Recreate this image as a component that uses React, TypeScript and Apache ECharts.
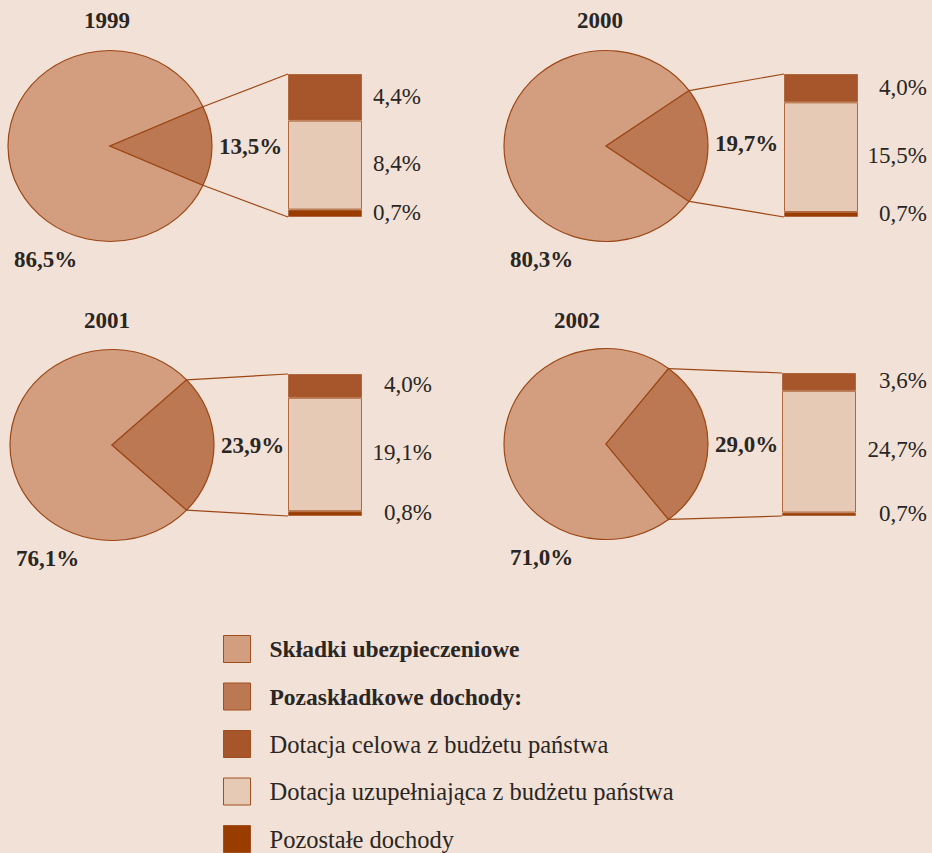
import React, { useEffect, useRef } from "react";
import * as echarts from "echarts";

// ---- data ----
const years = ["1999", "2000", "2001", "2002"];
const skladki = [86.5, 80.3, 76.1, 71.0];
const pozaskladkowe = [13.5, 19.7, 23.9, 29.0];
const celowa = [4.4, 4.0, 4.0, 3.6];
const uzupelniajaca = [8.4, 15.5, 19.1, 24.7];
const pozostale = [0.7, 0.7, 0.8, 0.7];

const legendNames = [
  "Składki ubezpieczeniowe",
  "Pozaskładkowe dochody:",
  "Dotacja celowa z budżetu państwa",
  "Dotacja uzupełniająca z budżetu państwa",
  "Pozostałe dochody",
];

// ---- layout / style ----
const BG = "#F1E1D6";
const C_MAIN = "#D39E7F";
const C_SLICE = "#BC7853";
const C_CEL = "#A6562A";
const C_UZU = "#E6CAB5";
const C_POZ = "#993C00";
const C_STROKE = "#9C4715";
const C_TEXT = "#2A2624";
const FONT = "'Liberation Serif', 'Times New Roman', serif";
const FS = 23;

const RX = 102;
const RY = 95.5;
const PANELS = [
  { cx: 110, cy: 146, dy: 0, gl: 288, gt: 74, gh: 143, lr: 421, tx: 107, ty: 20 },
  { cx: 606, cy: 146, dy: -3, gl: 784, gt: 74, gh: 143, lr: 927, tx: 600, ty: 20 },
  { cx: 112, cy: 445, dy: 0, gl: 288, gt: 374, gh: 142, lr: 432, tx: 107, ty: 320 },
  { cx: 606, cy: 444, dy: 0, gl: 782, gt: 373, gh: 143, lr: 927, tx: 577, ty: 320 },
];
const GW = 74;

const fmt = (v: number) => v.toFixed(1).replace(".", ",") + "%";

function buildOption() {
  const grids = PANELS.map((p) => ({ left: p.gl, top: p.gt, width: GW, height: p.gh }));
  const xAxes = PANELS.map((_, i) => ({
    type: "category",
    gridIndex: i,
    data: [years[i]],
    show: false,
  }));
  const yAxes = PANELS.map((_, i) => ({
    type: "value",
    gridIndex: i,
    min: 0,
    max: celowa[i] + uzupelniajaca[i] + pozostale[i],
    show: false,
  }));

  const barSeries: any[] = [];
  PANELS.forEach((p, i) => {
    const segs = [
      { name: legendNames[4], vals: pozostale, color: C_POZ, dy: -1 },
      { name: legendNames[3], vals: uzupelniajaca, color: C_UZU, dy: -2 },
      { name: legendNames[2], vals: celowa, color: C_CEL, dy: -1 },
    ];
    segs.forEach((s) => {
      barSeries.push({
        type: "bar",
        name: s.name,
        xAxisIndex: i,
        yAxisIndex: i,
        stack: "p" + i,
        barWidth: "100%",
        data: [s.vals[i]],
        itemStyle: { color: s.color, borderColor: "#B0673C", borderWidth: 1 },
        label: {
          show: true,
          position: [p.lr - p.gl, "50%"],
          offset: [0, s.dy],
          align: "right",
          verticalAlign: "middle",
          formatter: (d: any) => fmt(d.value),
          fontFamily: FONT,
          fontSize: FS,
          color: C_TEXT,
        },
        emphasis: { disabled: true },
      });
    });
  });

  const mainSeries = {
    type: "custom",
    name: legendNames[0],
    coordinateSystem: "none",
    itemStyle: { color: C_MAIN },
    data: skladki,
    z: 1,
    renderItem: (params: any, api: any) => {
      const i = params.dataIndex;
      const p = PANELS[i];
      const m = api.value(0);
      const s = pozaskladkowe[i];
      const h = (s / (s + m)) * Math.PI;
      return {
        type: "group",
        children: [
          {
            type: "sector",
            x: p.cx,
            y: p.cy,
            scaleY: RY / RX,
            shape: { cx: 0, cy: 0, r: RX, startAngle: h, endAngle: 2 * Math.PI - h, clockwise: true },
            style: { fill: C_MAIN, stroke: C_STROKE, lineWidth: 1.2, strokeNoScale: true },
          },
          {
            type: "text",
            x: p.cx - 96,
            y: p.cy + 113.5,
            style: {
              text: fmt(m),
              fill: C_TEXT,
              fontFamily: FONT,
              fontSize: FS,
              fontWeight: "bold",
              align: "left",
              verticalAlign: "middle",
            },
          },
        ],
      };
    },
  };

  const sliceSeries = {
    type: "custom",
    name: legendNames[1],
    coordinateSystem: "none",
    itemStyle: { color: C_SLICE },
    data: pozaskladkowe,
    z: 2,
    renderItem: (params: any, api: any) => {
      const i = params.dataIndex;
      const p = PANELS[i];
      const s = api.value(0);
      const m = skladki[i];
      const h = (s / (s + m)) * Math.PI;
      const ex = p.cx + RX * Math.cos(h);
      const eyT = p.cy - RY * Math.sin(h);
      const eyB = p.cy + RY * Math.sin(h);
      const ls = { stroke: C_STROKE, lineWidth: 1.2 };
      return {
        type: "group",
        children: [
          {
            type: "sector",
            x: p.cx,
            y: p.cy,
            scaleY: RY / RX,
            shape: { cx: 0, cy: 0, r: RX, startAngle: -h, endAngle: h, clockwise: true },
            style: { fill: C_SLICE, stroke: C_STROKE, lineWidth: 1.2, strokeNoScale: true },
          },
          { type: "line", shape: { x1: ex, y1: eyT, x2: p.gl, y2: p.gt }, style: ls },
          { type: "line", shape: { x1: ex, y1: eyB, x2: p.gl, y2: p.gt + p.gh }, style: ls },
          {
            type: "text",
            x: p.cx + RX + 7,
            y: p.cy + p.dy,
            style: {
              text: fmt(s),
              fill: C_TEXT,
              fontFamily: FONT,
              fontSize: FS,
              fontWeight: "bold",
              align: "left",
              verticalAlign: "middle",
            },
          },
        ],
      };
    },
  };

  const titles = PANELS.map((p, i) => ({
    text: years[i],
    left: p.tx,
    top: p.ty,
    textAlign: "center",
    textVerticalAlign: "middle",
    padding: 0,
    textStyle: { fontFamily: FONT, fontSize: FS, fontWeight: "bold", color: C_TEXT },
  }));

  return {
    animation: false,
    backgroundColor: BG,
    textStyle: { fontFamily: FONT },
    title: titles,
    grid: grids,
    xAxis: xAxes,
    yAxis: yAxes,
    legend: {
      orient: "vertical",
      left: 223,
      top: 635,
      height: 300,
      padding: 0,
      itemWidth: 27,
      itemHeight: 27,
      itemGap: 19.5,
      icon: "rect",
      selectedMode: false,
      itemStyle: { borderColor: "#A0501F", borderWidth: 1 },
      textStyle: {
        fontFamily: FONT,
        fontSize: 24.5,
        color: C_TEXT,
        padding: [0, 0, 0, 14],
      },
      data: [
        { name: legendNames[0], textStyle: { fontWeight: "bold", fontSize: 23.5 } },
        { name: legendNames[1], textStyle: { fontWeight: "bold", fontSize: 23.5 } },
        { name: legendNames[2] },
        { name: legendNames[3] },
        { name: legendNames[4] },
      ],
    },
    series: [mainSeries, sliceSeries, ...barSeries],
  };
}

export default function App() {
  const ref = useRef<HTMLDivElement>(null);
  useEffect(() => {
    if (!ref.current) return;
    const chart = echarts.init(ref.current, undefined, { renderer: "svg" });
    chart.setOption(buildOption() as any);
    return () => chart.dispose();
  }, []);
  return (
    <div
      ref={ref}
      style={{ position: "fixed", left: 0, top: 0, width: 932, height: 853, background: BG }}
    />
  );
}
